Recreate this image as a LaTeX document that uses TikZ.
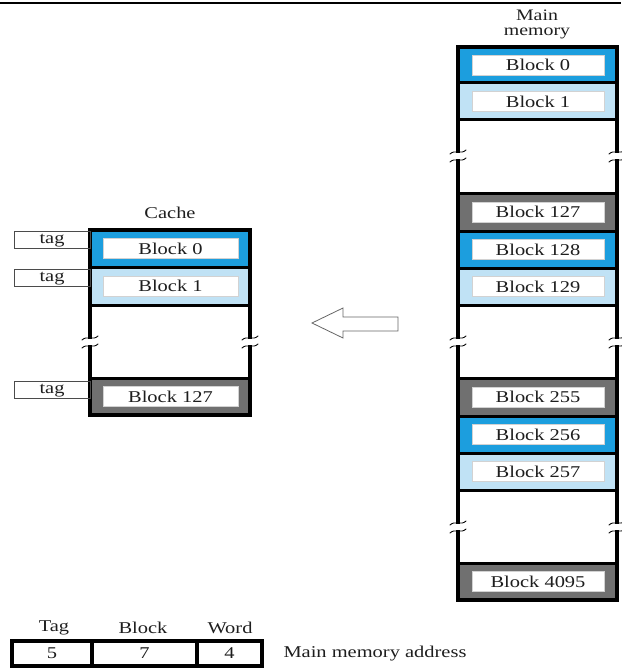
\documentclass[tikz,border=0pt]{standalone}
\usepackage{fontspec}
\setmainfont[FakeStretch=1.24]{Liberation Serif}
\definecolor{bb}{RGB}{28,158,222}
\definecolor{lb}{RGB}{192,226,245}
\definecolor{gr}{RGB}{112,112,112}
\definecolor{ink}{RGB}{30,30,30}
\begin{document}
\begin{tikzpicture}[x=1pt,y=-1pt,
  font=\fontsize{16.5}{18}\selectfont, text=ink,
  lbl/.style={draw=gray!35, line width=0.6pt, fill=white, minimum height=20pt, inner sep=0pt},
  mlbl/.style={lbl, minimum width=132pt},
  clbl/.style={lbl, minimum width=135pt},
  tagbox/.style={draw=ink!80, line width=0.8pt, minimum width=76pt, minimum height=17pt, inner sep=0pt},
  field/.style={draw=black, line width=4pt, minimum height=25pt, inner sep=0pt},
  sep/.style={line width=3pt},
  outer/.style={line width=4pt},
  brk/.style={line width=0.9pt, line cap=round}
]
\useasboundingbox (0,0) rectangle (621,671);
\draw[line width=2pt] (0,3) -- (621,3);

% ---------- main memory ----------
\fill[white] (458,47) rectangle (617,600);
\foreach \a/\b/\c in {47/83/bb,83/120/lb,193/231/gr,231/268/bb,268/305/lb,378/416/gr,416/453/bb,453/490/lb,563/600/gr}
  \fill[\c] (458,\a) rectangle (617,\b);
\foreach \y in {83,120,193,231,268,305,378,416,453,490,563}
  \draw[sep] (458,\y) -- (617,\y);
\draw[outer] (458,47) rectangle (617,600);
\foreach \x in {458,617}
  \foreach \y in {156,342,527} {
    \fill[white] (\x-5,\y-3) rectangle (\x+5,\y+3);
    \draw[brk] (\x-8,\y-2) .. controls (\x-3,\y-7) and (\x+3,\y-1) .. (\x+8,\y-6);
    \draw[brk] (\x-8,\y+6) .. controls (\x-3,\y+1) and (\x+3,\y+7) .. (\x+8,\y+2);
  }
\node[mlbl] (m0) at (538,65) {Block 0};
\node[mlbl] (m1) at (538,101.5) {Block 1};
\node[mlbl] (m127) at (538,212) {Block 127};
\node[mlbl] (m128) at (538,249.5) {Block 128};
\node[mlbl] (m129) at (538,286.5) {Block 129};
\node[mlbl] (m255) at (538,397) {Block 255};
\node[mlbl] (m256) at (538,434.5) {Block 256};
\node[mlbl] (m257) at (538,471.5) {Block 257};
\node[mlbl] (m4095) at (538,581.5) {Block 4095};
\node[align=center, font=\fontsize{16}{15}\selectfont, inner sep=0pt] (mmlbl) at (537,24) {Main\\memory};

% ---------- cache ----------
\fill[white] (90,230) rectangle (250,415);
\foreach \a/\b/\c in {230/267/bb,267/305/lb,378/415/gr}
  \fill[\c] (90,\a) rectangle (250,\b);
\foreach \y in {267,305,378}
  \draw[sep] (90,\y) -- (250,\y);
\draw[outer] (90,230) rectangle (250,415);
\foreach \x in {90,250} {
    \fill[white] (\x-5,342-3) rectangle (\x+5,342+3);
    \draw[brk] (\x-8,340) .. controls (\x-3,335) and (\x+3,341) .. (\x+8,336);
    \draw[brk] (\x-8,348) .. controls (\x-3,343) and (\x+3,349) .. (\x+8,344);
}
\node[clbl] (c0) at (170.5,248.5) {Block 0};
\node[clbl] (c1) at (170.5,286) {Block 1};
\node[clbl] (c127) at (170.5,396.5) {Block 127};
\node (cachelbl) at (170,213) {Cache};

\node[tagbox] (t0) at (52,240) {};
\node[tagbox] (t1) at (52,278) {};
\node[tagbox] (t127) at (52,390) {};
\node[anchor=base] (t0l) at ([yshift=-3pt]t0.center) {tag};
\node[anchor=base] (t1l) at ([yshift=-3pt]t1.center) {tag};
\node[anchor=base] (t127l) at ([yshift=-3pt]t127.center) {tag};

% ---------- arrow ----------
\draw[gray!80!black, line width=0.8pt, line join=miter]
  (312,323) -- (343,308) -- (343,317) -- (398,317) -- (398,331) -- (343,331) -- (343,338) -- cycle;

% ---------- address ----------
\node[field, minimum width=80pt] (ftag) at (52,653.5) {5};
\node[field, minimum width=105pt] (fblock) at (144.5,653.5) {7};
\node[field, minimum width=65pt] (fword) at (229.5,653.5) {4};
\node (ltag) at (54,628) {Tag};
\node (lblock) at (143,628) {Block};
\node (lword) at (230,628) {Word};
\node[anchor=west] (addr) at (280,654) {Main memory address};
\end{tikzpicture}
\end{document}
